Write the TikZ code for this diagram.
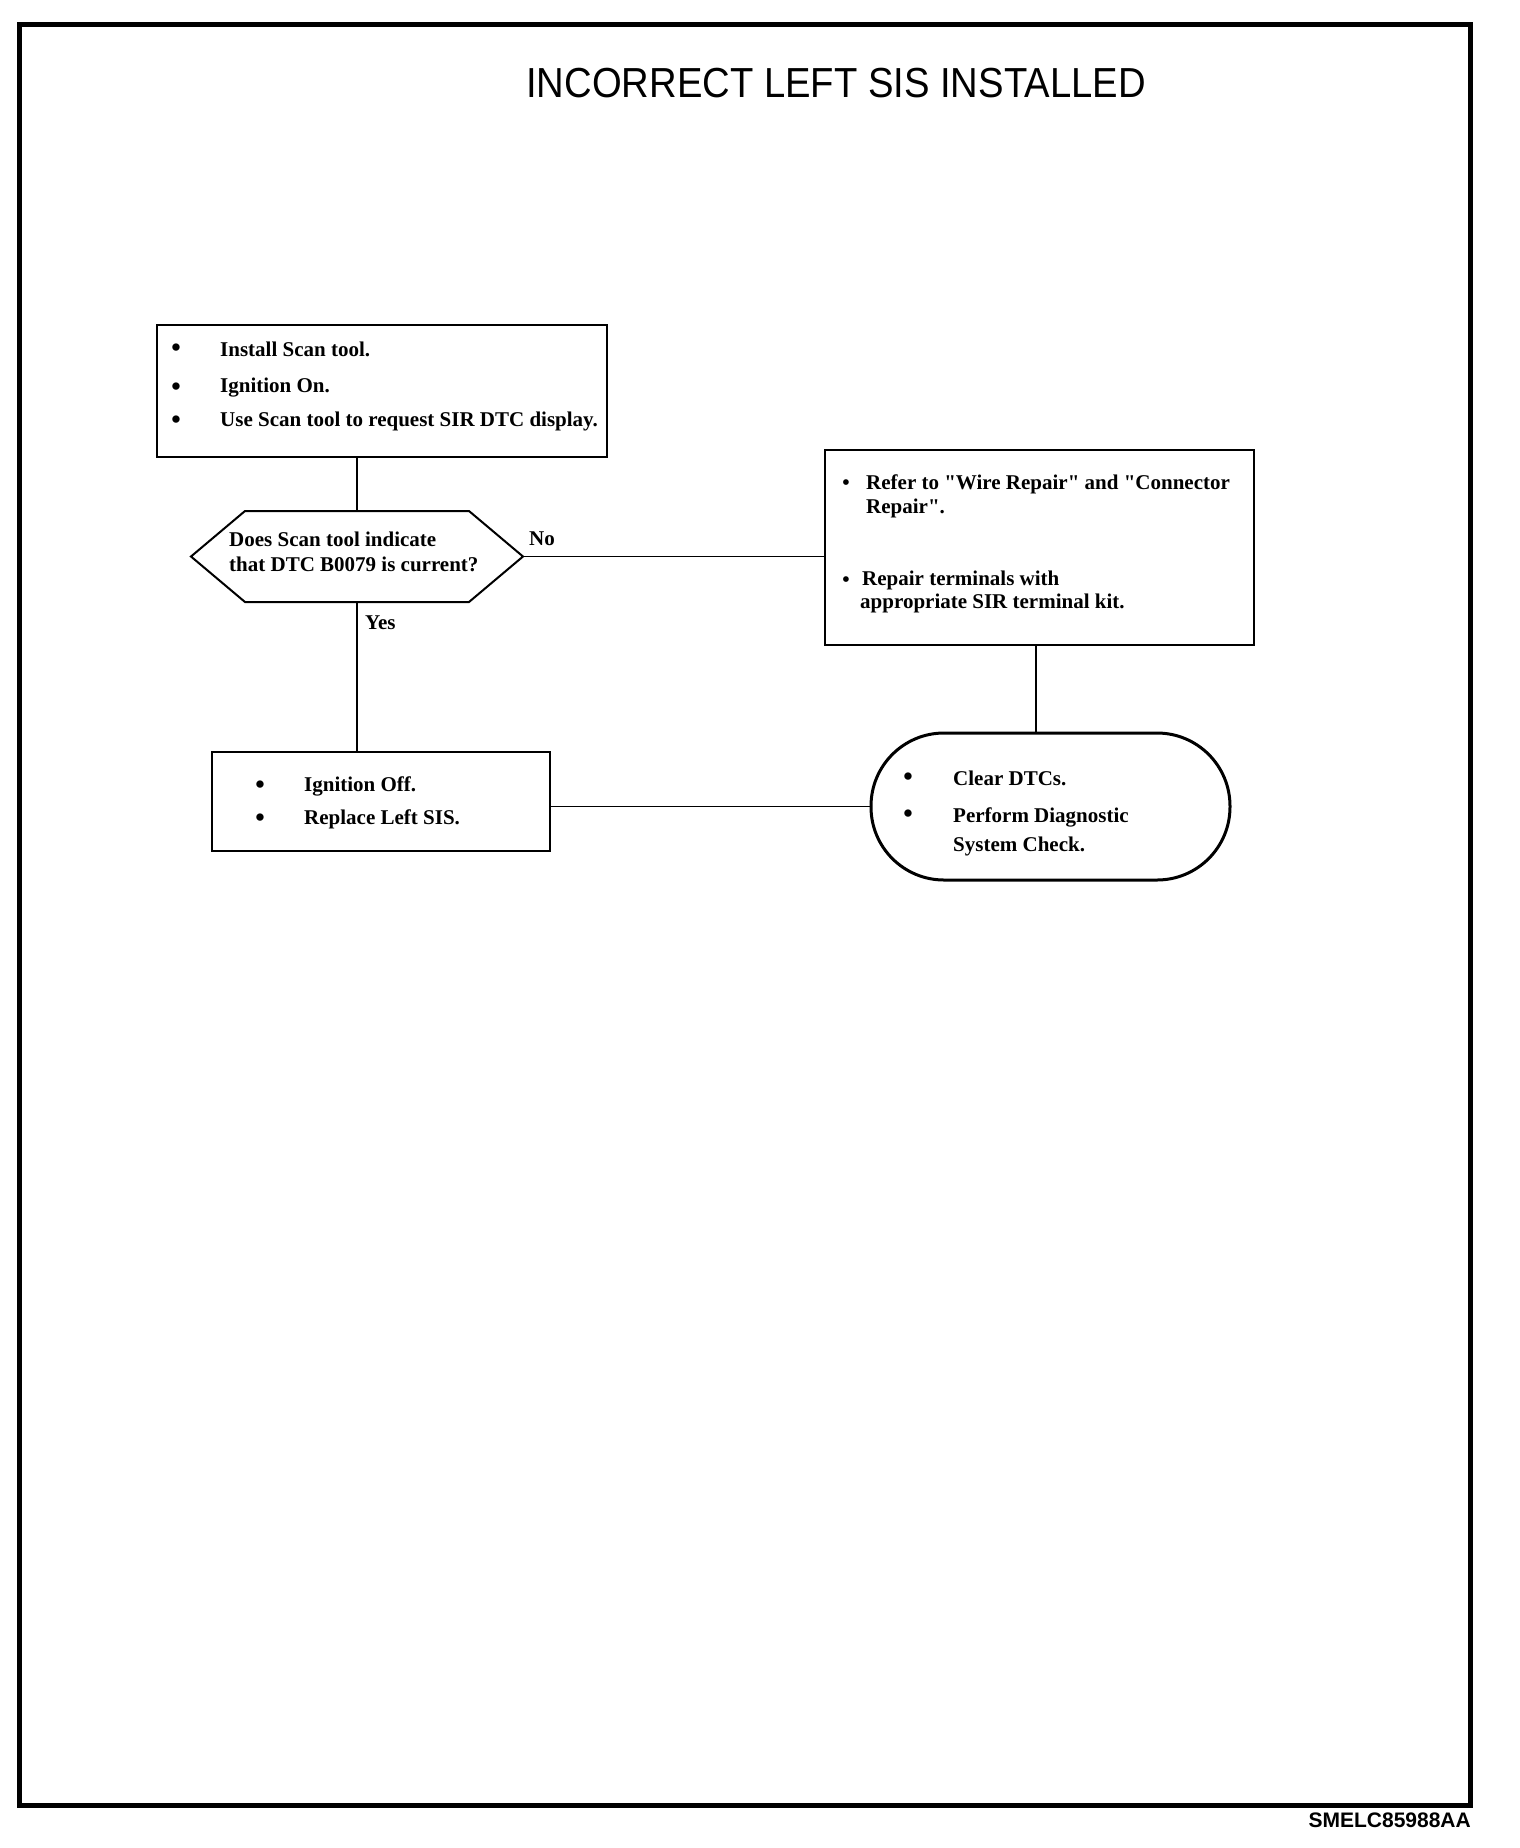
\documentclass[tikz,border=0pt]{standalone}
\usepackage{fontspec}
\setmainfont{Liberation Serif}
\newfontfamily\headfont{Liberation Sans}
\tikzset{
  box/.style={draw, line width=2.5pt, inner sep=0pt},
  link/.style={line width=1.5pt},
  txt/.style={anchor=west, inner sep=0pt, font=\fontsize{21}{25}\selectfont\bfseries},
  bul/.style={inner sep=0pt, font=\fontsize{27}{30}\selectfont\bfseries},
  smallbul/.style={inner sep=0pt, font=\fontsize{21}{25}\selectfont\bfseries}
}
\begin{document}
\begin{tikzpicture}[x=1pt, y=-1pt]
  \useasboundingbox (0,0) rectangle (1520,1848);
  \draw[line width=5pt] (19,24.5) rectangle (1470,1805);

  \node[font=\headfont\fontsize{42}{50}\selectfont] (title) at (836,83)
    {\scalebox{0.91}[1]{INCORRECT LEFT SIS INSTALLED}};
  \node[anchor=east, inner sep=0pt, font=\headfont\bfseries\fontsize{21}{25}\selectfont] (code)
    at (1471,1820) {SMELC85988AA};

  % boxes
  \node[box, minimum width=450pt, minimum height=132pt] (scan) at (382,391) {};
  \node[minimum width=332pt, minimum height=91pt, inner sep=0pt, outer sep=0pt] (ask) at (357,556.5) {};
  \draw[line width=2pt] (ask.west) -- ([xshift=-112pt]ask.north) -- ([xshift=112pt]ask.north)
    -- (ask.east) -- ([xshift=112pt]ask.south) -- ([xshift=-112pt]ask.south) -- cycle;
  \node[box, minimum width=429pt, minimum height=195pt] (repair) at (1039.5,547.5) {};
  \node[box, minimum width=338pt, minimum height=99pt] (off) at (381,801.5) {};
  \node[box, line width=3pt, rounded corners=73pt, minimum width=359pt, minimum height=147pt] (clear)
    at (1050.5,806.5) {};

  % connectors
  \draw[link] (scan.south -| ask.north) -- (ask.north);
  \draw[link] (ask.east) -- (ask.east -| repair.west);
  \draw[link] (ask.south) -- (ask.south |- off.north);
  \coordinate (rs) at ([xshift=-3.5pt]repair.south);
  \draw[link] (rs) -- (rs |- clear.north);
  \draw[link] (clear.west -| off.east) -- (clear.west);

  \node[txt] (no) at (529,539) {No};
  \node[txt] (yes) at (365,623) {Yes};

  % texts
  \foreach \y in {350,389,422} \node[bul] at (176,\y) {•};
  \node[txt] (s1) at (220,349) {Install Scan tool.};
  \node[txt] (s2) at (220,388) {Ignition On.};
  \node[txt] (s3) at (220,421) {Use Scan tool to request SIR DTC display.};

  \node[txt] (q1) at (229,539) {Does Scan tool indicate};
  \node[txt] (q2) at (229,564) {that DTC B0079 is current?};

  \foreach \y in {485,582} \node[smallbul] at (846,\y) {•};
  \node[txt] (r1) at (866,484) {Refer to \textquotedbl Wire Repair\textquotedbl{} and \textquotedbl Connector};
  \node[txt] (r2) at (866,508) {Repair\textquotedbl.};
  \node[txt] (r3) at (862,580) {Repair terminals with};
  \node[txt] (r4) at (860,603) {appropriate SIR terminal kit.};

  \foreach \y in {787,820} \node[bul] at (260,\y) {•};
  \node[txt] (o1) at (304,786) {Ignition Off.};
  \node[txt] (o2) at (304,819) {Replace Left SIS.};

  \foreach \y in {779,816} \node[bul] at (908,\y) {•};
  \node[txt] (c1) at (953,778) {Clear DTCs.};
  \node[txt] (c2) at (953,817) {Perform Diagnostic};
  \node[txt] (c3) at (953,846) {System Check.};
\end{tikzpicture}
\end{document}
